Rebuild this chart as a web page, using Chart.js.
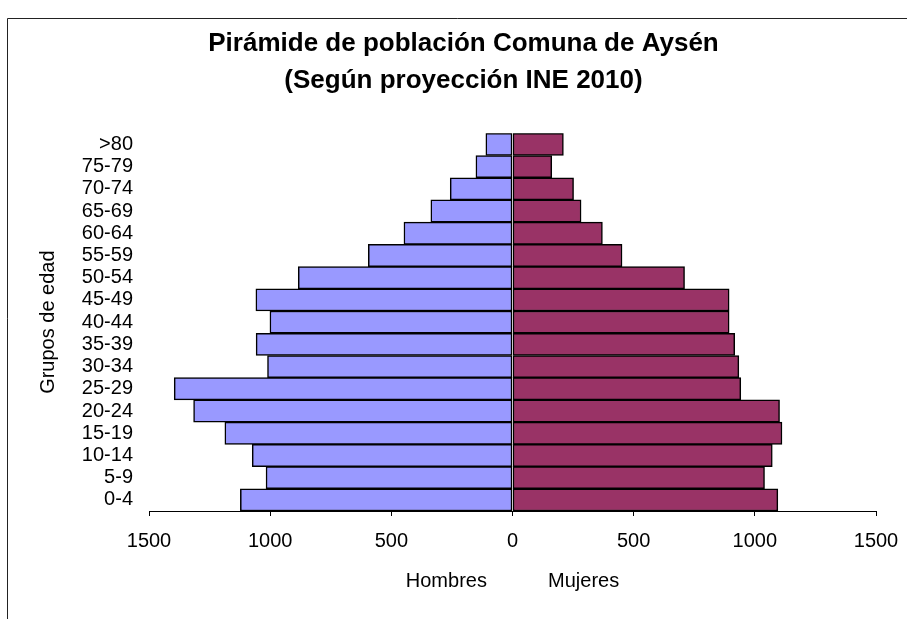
<!DOCTYPE html>
<html>
<head>
<meta charset="utf-8">
<title>Pirámide de población Comuna de Aysén</title>
<script src="https://cdn.jsdelivr.net/npm/chart.js@4/dist/chart.umd.min.js"></script>
<style>
    body { margin: 0; background: #fff; overflow: hidden; }
    #wrap { position: relative; width: 907px; height: 619px; }
</style>
</head>
<body>
<div id="wrap"><canvas id="chart_piramide"></canvas></div>
<script>
var grupos = ['>80', '75-79', '70-74', '65-69', '60-64', '55-59', '50-54', '45-49', '40-44',
    '35-39', '30-34', '25-29', '20-24', '15-19', '10-14', '5-9', '0-4'];
var hombres = [110, 151, 257, 337, 448, 595, 884, 1059, 1001, 1058, 1011, 1396, 1316, 1187, 1074, 1017, 1123];
var mujeres = [210, 162, 252, 283, 371, 452, 710, 894, 894, 917, 934, 942, 1102, 1112, 1072, 1040, 1095];
var ticksX = [-1500, -1000, -500, 0, 500, 1000, 1500];

var fuente = "'Liberation Sans', Arial, sans-serif";

// marco del grafico (borde superior e izquierdo)
var marco = {
    id: 'marco',
    beforeDraw: function (chart) {
        var ctx = chart.ctx;
        ctx.save();
        ctx.fillStyle = '#fff';
        ctx.fillRect(0, 0, chart.width, chart.height);
        ctx.strokeStyle = '#222';
        ctx.lineWidth = 1;
        ctx.beginPath();
        ctx.moveTo(7.5, chart.height);
        ctx.lineTo(7.5, 18.5);
        ctx.lineTo(chart.width, 18.5);
        ctx.stroke();
        ctx.restore();
    }
};

var ctx = document.getElementById('chart_piramide').getContext('2d');
var piramide = new Chart(ctx, {
    type: 'bar',
    data: {
        labels: grupos,
        datasets: [{
            label: 'Hombres',
            data: hombres.map(function (v) { return -v; }),
            backgroundColor: '#9999FF',
            borderColor: '#000',
            borderWidth: 1.5,
            borderSkipped: false,
            barPercentage: 1,
            categoryPercentage: 1
        }, {
            label: 'Mujeres',
            data: mujeres,
            backgroundColor: '#993366',
            borderColor: '#000',
            borderWidth: 1.5,
            borderSkipped: false,
            barPercentage: 1,
            categoryPercentage: 1
        }]
    },
    options: {
        indexAxis: 'y',
        responsive: true,
        maintainAspectRatio: false,
        animation: false,
        layout: { padding: { left: 51, right: 31, top: 0, bottom: 0 } },
        plugins: {
            legend: { display: false },
            tooltip: { enabled: false },
            title: {
                display: true,
                text: ['Pirámide de población Comuna de Aysén', '(Según proyección INE 2010)'],
                color: '#000',
                font: { family: fuente, size: 26, weight: 'bold', lineHeight: 1.442 },
                padding: { top: 25, bottom: 33.3 }
            }
        },
        scales: {
            x: {
                stacked: true,
                min: -1500,
                max: 1500,
                afterBuildTicks: function (scale) {
                    scale.ticks = ticksX.map(function (v) { return { value: v }; });
                },
                afterFit: function (scale) { scale.height = 108; },
                grid: { display: true, drawOnChartArea: false, drawTicks: true, tickLength: 5, color: '#000' },
                border: { display: true, color: '#000', width: 1 },
                ticks: {
                    color: '#000',
                    padding: 8,
                    maxRotation: 0,
                    font: { family: fuente, size: 20, lineHeight: 1.7 },
                    callback: function (v) { return Math.abs(v); }
                },
                title: {
                    display: true,
                    text: 'Hombres           Mujeres',
                    color: '#000',
                    font: { family: fuente, size: 20 },
                    padding: { top: 0, bottom: 25.5 }
                }
            },
            y: {
                stacked: true,
                afterFit: function (scale) { scale.width = 98; },
                grid: { display: false, drawTicks: false },
                border: { display: false },
                ticks: {
                    color: '#000',
                    padding: 16,
                    autoSkip: false,
                    font: { family: fuente, size: 20 }
                },
                title: {
                    display: true,
                    text: 'Grupos de edad',
                    color: '#000',
                    font: { family: fuente, size: 20 },
                    padding: { top: -15, bottom: 0 }
                }
            }
        }
    },
    plugins: [marco]
});
</script>
</body>
</html>
